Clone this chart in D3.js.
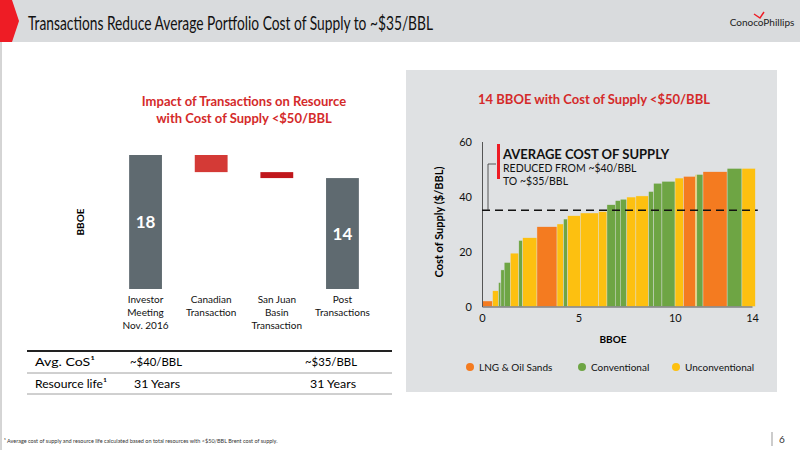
<!DOCTYPE html>
<html>
<head>
<meta charset="UTF-8">
<script src="https://cdn.jsdelivr.net/npm/d3@7"></script>
<style>body{margin:0}svg{font-family:Lato,"Open Sans",sans-serif}</style>
</head>
<body>
<script>
// left waterfall
var wfCats = [["Investor", "Meeting", "Nov. 2016"], ["Canadian", "Transaction"], ["San Juan", "Basin", "Transaction"], ["Post", "Transactions"]];
var wfValues = [18, -2.3, -0.8, 14.9];
var wfLabels = ["18", "", "", "14"];

// table rows
var tblRows = ["Avg. CoS¹", "Resource life¹"];
var tblBefore = ["~$40/BBL", "31 Years"];
var tblAfter = ["~$35/BBL", "31 Years"];

// right step chart: segment widths (BBOE), cost, type
var segWidth = [0.55, 0.31, 0.12, 0.17, 0.32, 0.44, 0.2, 0.74, 1.04, 0.34, 0.21, 0.66, 0.95, 0.43, 0.43, 0.26, 0.34, 0.47, 0.66, 0.26, 0.43, 0.68, 0.44, 0.61, 0.08, 0.32, 1.25, 0.77, 0.69];
var segCost  = [2, 5.7, 8.7, 13.3, 16, 19.4, 24, 25, 29, 30, 31.8, 33, 34, 34.5, 37, 38.5, 39, 39.8, 40.2, 41.8, 44.8, 45.5, 46.7, 47.3, 48, 48, 49, 50.2, 50.2];
var segType  = ["L", "U", "C", "C", "C", "U", "C", "U", "L", "U", "C", "U", "U", "U", "C", "C", "C", "U", "U", "C", "C", "C", "U", "L", "U", "C", "L", "C", "U"];
var xTicks = [0, 5, 10, 14];
var yTicks = [0, 20, 40, 60];
var avgCost = 35;

var colors = {L: "#f47b20", C: "#6ea544", U: "#fdc010"};
var red = "#d42a2a";

var svg = d3.select("body").append("svg").attr("width", 800).attr("height", 450);
svg.append("rect").attr("width", 800).attr("height", 450).attr("fill", "#fff");
svg.append("line").attr("x1", 1).attr("x2", 1).attr("y1", 42).attr("y2", 450).attr("stroke", "#aaa");

// header
svg.append("rect").attr("width", 800).attr("height", 42).attr("fill", "#d9dbdd");
svg.append("path").attr("d", "M0,0 L12,0 L19,21 L12,42 L0,42 Z").attr("fill", "#ee1c25");
svg.append("text").attr("x", 28).attr("y", 30).attr("font-size", 20).attr("fill", "#111")
    .attr("textLength", 405).attr("lengthAdjust", "spacingAndGlyphs")
    .text("Transactions Reduce Average Portfolio Cost of Supply to ~$35/BBL");
svg.append("text").attr("x", 762).attr("y", 26).attr("text-anchor", "middle").attr("font-size", 10).attr("fill", "#222").text("ConocoPhillips");
svg.append("path").attr("d", "M754,14 L760,18 L764,12").attr("stroke", "#ee1c25").attr("fill", "none").attr("stroke-width", 1.5);

// left panel
svg.append("text").attr("x", 244).attr("y", 106).attr("text-anchor", "middle").attr("font-size", 13).attr("font-weight", "bold").attr("fill", red).text("Impact of Transactions on Resource");
svg.append("text").attr("x", 244).attr("y", 123).attr("text-anchor", "middle").attr("font-size", 13).attr("font-weight", "bold").attr("fill", red).text("with Cost of Supply <$50/BBL");

var xw = d3.scaleBand().domain(d3.range(wfCats.length)).range([116, 372]).paddingInner(0.5).paddingOuter(0.2);
var yw = d3.scaleLinear().domain([0, 18]).range([289, 155]);
var run = 0;
wfValues.forEach(function (v, i) {
    var y0, y1, fill;
    if (i == 0 || i == wfValues.length - 1) { y0 = 0; y1 = v; run = v; fill = "#5f6a70"; }
    else { y0 = run; y1 = run + v; run = y1; fill = i == 1 ? "#d43a36" : "#c0171c"; }
    svg.append("rect").attr("x", xw(i)).attr("width", xw.bandwidth())
        .attr("y", yw(Math.max(y0, y1))).attr("height", Math.abs(yw(y0) - yw(y1))).attr("fill", fill);
    if (wfLabels[i]) svg.append("text").attr("x", xw(i) + xw.bandwidth() / 2).attr("y", yw(y1 / 2) + 6)
        .attr("text-anchor", "middle").attr("font-size", 17).attr("font-weight", "bold").attr("fill", "#fff").text(wfLabels[i]);
    wfCats[i].forEach(function (l, j) {
        svg.append("text").attr("x", xw(i) + xw.bandwidth() / 2).attr("y", 303 + j * 13).attr("text-anchor", "middle")
            .attr("font-size", 10).attr("fill", "#111").text(l);
    });
});
svg.append("text").attr("transform", "translate(84,222) rotate(-90)").attr("text-anchor", "middle").attr("font-size", 10).attr("font-weight", "bold").text("BBOE");

// table
svg.append("line").attr("x1", 27).attr("x2", 392).attr("y1", 351).attr("y2", 351).attr("stroke", "#222").attr("stroke-width", 2);
svg.append("line").attr("x1", 27).attr("x2", 392).attr("y1", 373).attr("y2", 373).attr("stroke", "#888").attr("stroke-width", 0.8);
svg.append("line").attr("x1", 27).attr("x2", 392).attr("y1", 394).attr("y2", 394).attr("stroke", "#888").attr("stroke-width", 0.8);
tblRows.forEach(function (r, i) {
    var yy = 366 + i * 22;
    svg.append("text").attr("x", 35).attr("y", yy).attr("font-size", 12).attr("textLength", i ? 72 : 60).attr("lengthAdjust", "spacingAndGlyphs").text(r);
    svg.append("text").attr("x", i ? 134 : 130).attr("y", yy).attr("font-size", 12).attr("textLength", i ? 46 : 52).attr("lengthAdjust", "spacingAndGlyphs").text(tblBefore[i]);
    svg.append("text").attr("x", i ? 310 : 305).attr("y", yy).attr("font-size", 12).attr("textLength", i ? 46 : 52).attr("lengthAdjust", "spacingAndGlyphs").text(tblAfter[i]);
});

// right panel
svg.append("rect").attr("x", 406).attr("y", 70).attr("width", 371).attr("height", 322).attr("fill", "#dfe1e3");
svg.append("text").attr("x", 594).attr("y", 104).attr("text-anchor", "middle").attr("font-size", 13).attr("font-weight", "bold").attr("fill", red).text("14 BBOE with Cost of Supply <$50/BBL");

var x = d3.scaleLinear().domain([0, 14]).range([482, 752]);
var y = d3.scaleLinear().domain([0, 60]).range([306.5, 141.5]);
var starts = [0];
segWidth.forEach(function (w, i) { starts.push(starts[i] + w); });
svg.append("g").selectAll("rect").data(segWidth).enter().append("rect")
    .attr("x", function (d, i) { return x(starts[i]); })
    .attr("width", function (d) { return x(d) - x(0); })
    .attr("y", function (d, i) { return y(segCost[i]); })
    .attr("height", function (d, i) { return y(0) - y(segCost[i]); })
    .attr("fill", function (d, i) { return colors[segType[i]]; })
    .attr("stroke", "#dfe1e3").attr("stroke-width", 0.4);

var gx = svg.append("g").attr("transform", "translate(0," + y(0) + ")")
    .call(d3.axisBottom(x).tickValues(xTicks).tickSize(0).tickPadding(8));
var gy = svg.append("g").attr("transform", "translate(" + x(0) + ",0)")
    .call(d3.axisLeft(y).tickValues(yTicks).tickSize(0).tickPadding(10));
[gx, gy].forEach(function (g) {
    g.select(".domain").attr("stroke", "#555");
    g.selectAll("text").attr("font-size", 11).attr("font-family", "Lato").attr("fill", "#111");
});
svg.append("text").attr("x", 613).attr("y", 343).attr("text-anchor", "middle").attr("font-size", 10).attr("font-weight", "bold").text("BBOE");
svg.append("text").attr("transform", "translate(443,222) rotate(-90)").attr("text-anchor", "middle").attr("font-size", 11).attr("font-weight", "bold").text("Cost of Supply ($/BBL)");

svg.append("line").attr("x1", x(0)).attr("x2", x(14.3)).attr("y1", y(avgCost)).attr("y2", y(avgCost))
    .attr("stroke", "#111").attr("stroke-width", 1.6).attr("stroke-dasharray", "8,5");
svg.append("path").attr("d", "M" + (x(0) + 6) + "," + y(avgCost) + " V" + 164 + " H496").attr("stroke", "#333").attr("fill", "none").attr("stroke-width", 0.8);
svg.append("rect").attr("x", 497).attr("y", 144).attr("width", 3).attr("height", 35).attr("fill", "#ee1c25");
svg.append("text").attr("x", 503).attr("y", 159).attr("font-size", 13).attr("font-weight", "bold").attr("fill", "#111").text("AVERAGE COST OF SUPPLY");
svg.append("text").attr("x", 503).attr("y", 172).attr("font-size", 10.5).attr("fill", "#111").text("REDUCED FROM ~$40/BBL");
svg.append("text").attr("x", 503).attr("y", 185).attr("font-size", 10.5).attr("fill", "#111").text("TO ~$35/BBL");

// legend
[["LNG & Oil Sands", "L", 470], ["Conventional", "C", 582], ["Unconventional", "U", 676]].forEach(function (l) {
    svg.append("circle").attr("cx", l[2]).attr("cy", 367).attr("r", 4).attr("fill", colors[l[1]]);
    svg.append("text").attr("x", l[2] + 9).attr("y", 371).attr("font-size", 10).attr("fill", "#111").text(l[0]);
});

// footer
svg.append("text").attr("x", 4).attr("y", 443).attr("font-size", 5.5).attr("fill", "#333")
    .text("¹ Average cost of supply and resource life calculated based on total resources with <$50/BBL Brent cost of supply.");
svg.append("line").attr("x1", 772).attr("x2", 772).attr("y1", 432).attr("y2", 446).attr("stroke", "#999");
svg.append("text").attr("x", 779).attr("y", 443).attr("font-size", 10).attr("fill", "#333").text("6");
</script>
</body>
</html>
